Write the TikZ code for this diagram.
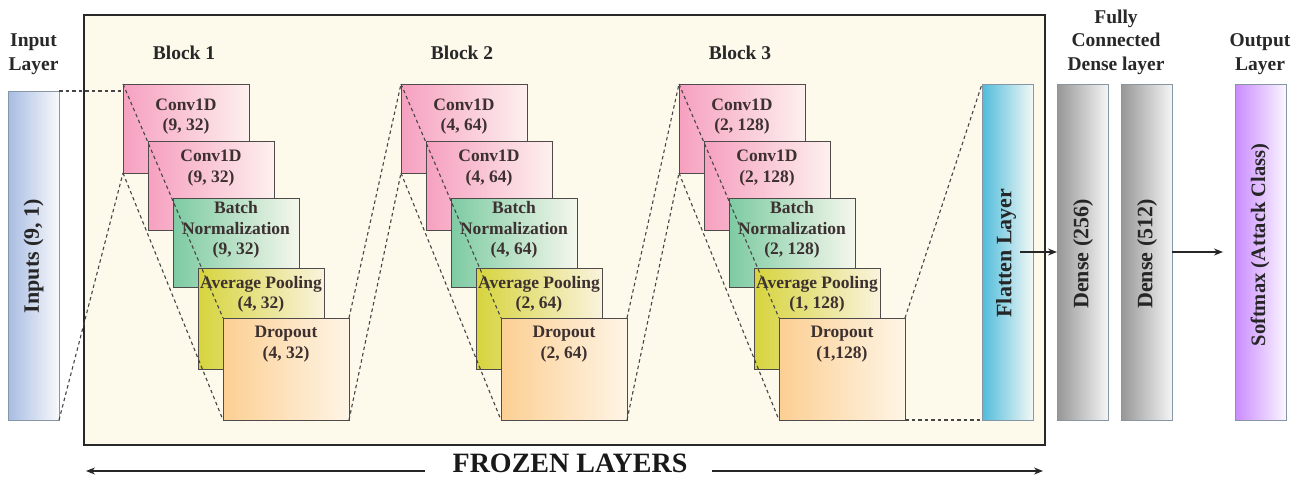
\documentclass[tikz,border=0pt]{standalone}
\usepackage{fontspec}
\setmainfont{Liberation Serif}
\usetikzlibrary{arrows.meta,calc}
\definecolor{frzfill}{RGB}{253,249,235}
\definecolor{frzline}{RGB}{40,40,40}
\definecolor{boxline}{RGB}{80,75,75}
\definecolor{barline}{RGB}{135,150,165}
\definecolor{dashcol}{RGB}{70,70,70}
\definecolor{lbltext}{RGB}{60,48,48}
\definecolor{hdrtext}{RGB}{40,40,40}
\definecolor{convL}{RGB}{246,160,192}
\definecolor{convR}{RGB}{253,240,238}
\definecolor{bnL}{RGB}{125,203,162}
\definecolor{bnR}{RGB}{245,247,236}
\definecolor{apL}{RGB}{214,212,60}
\definecolor{apR}{RGB}{250,243,222}
\definecolor{doL}{RGB}{252,207,147}
\definecolor{doR}{RGB}{254,245,230}
\definecolor{inL}{RGB}{168,188,226}
\definecolor{inR}{RGB}{248,249,252}
\definecolor{flL}{RGB}{80,188,219}
\definecolor{flR}{RGB}{243,248,246}
\definecolor{dnL}{RGB}{150,150,150}
\definecolor{dnR}{RGB}{245,245,245}
\definecolor{smL}{RGB}{201,139,255}
\definecolor{smR}{RGB}{251,246,255}
\begin{document}
\begin{tikzpicture}[x=1pt,y=-1pt,
  lyr/.style={draw=boxline, line width=0.8pt, inner sep=0pt, outer sep=0pt, anchor=north west, minimum width=126pt},
  conv/.style={lyr, left color=convL, right color=convR, minimum height=89pt},
  bnorm/.style={lyr, left color=bnL, right color=bnR, minimum height=89pt},
  apool/.style={lyr, left color=apL, right color=apR, minimum height=101pt},
  drop/.style={lyr, left color=doL, right color=doR, minimum height=102pt},
  bar/.style={draw=barline, line width=0.8pt, inner sep=0pt, outer sep=0pt, anchor=north west, minimum width=51pt, minimum height=336pt},
  lbl/.style={font=\bfseries\fontsize{17.5}{20.5}\selectfont, text=lbltext, align=center, inner sep=0pt},
  vtxt/.style={rotate=90, font=\bfseries\fontsize{22}{24}\selectfont, text=black!85, inner sep=0pt},
  hdr/.style={font=\bfseries\fontsize{19.5}{24}\selectfont, text=hdrtext, align=center, inner sep=0pt},
  dline/.style={draw=dashcol, line width=1.1pt, dash pattern=on 3.5pt off 3pt},
  arr/.style={-{Stealth[length=9pt,width=7pt]}, line width=1.2pt, draw=black!85}
]
\useasboundingbox (0,0) rectangle (1306,482);
\fill[white] (0,0) rectangle (1306,482);

% frozen area
\node[draw=frzline, line width=1.1pt, fill=frzfill, anchor=north west, inner sep=0pt, outer sep=0pt,
      minimum width=961pt, minimum height=430pt] (frz) at (84,15) {};

% input
\node[bar, left color=inL, right color=inR, minimum height=329pt] (inp) at (8,91) {};
\node[vtxt] (inpt) at (33.5,256) {Inputs (9, 1)};

% headers
\node[hdr] (hin) at (33.5,54) {Input\\Layer};
\node[hdr] (hb1) at (184,53) {Block 1};
\node[hdr] (hb2) at (462,53) {Block 2};
\node[hdr] (hb3) at (740,53) {Block 3};
\node[hdr, font=\bfseries\fontsize{19.5}{23.5}\selectfont] (hfc) at (1116,42) {Fully\\Connected\\Dense layer};
\node[hdr] (hout) at (1260,54) {Output\\Layer};

% block 1
\node[conv]  (b1c1) at (123,84) {};
\node[lbl]   (b1c1t) at ([yshift=-32.5pt]b1c1.north) {Conv1D\\(9, 32)};
\node[conv]  (b1c2) at (148,141) {};
\node[lbl]   (b1c2t) at ([yshift=-27pt]b1c2.north) {Conv1D\\(9, 32)};
\node[bnorm] (b1bn) at (173,198) {};
\node[lbl]   (b1bnt) at ([yshift=-32pt]b1bn.north) {Batch\\Normalization\\(9, 32)};
\node[apool] (b1ap) at (198,268) {};
\node[lbl]   (b1apt) at ([yshift=-26.5pt]b1ap.north) {Average Pooling\\(4, 32)};
\node[drop]  (b1do) at (223,318) {};
\node[lbl]   (b1dot) at ([yshift=-26pt]b1do.north) {Dropout\\(4, 32)};

% block 2
\node[conv]  (b2c1) at (401,84) {};
\node[lbl]   (b2c1t) at ([yshift=-32.5pt]b2c1.north) {Conv1D\\(4, 64)};
\node[conv]  (b2c2) at (426,141) {};
\node[lbl]   (b2c2t) at ([yshift=-27pt]b2c2.north) {Conv1D\\(4, 64)};
\node[bnorm] (b2bn) at (451,198) {};
\node[lbl]   (b2bnt) at ([yshift=-32pt]b2bn.north) {Batch\\Normalization\\(4, 64)};
\node[apool] (b2ap) at (476,268) {};
\node[lbl]   (b2apt) at ([yshift=-26.5pt]b2ap.north) {Average Pooling\\(2, 64)};
\node[drop]  (b2do) at (501,318) {};
\node[lbl]   (b2dot) at ([yshift=-26pt]b2do.north) {Dropout\\(2, 64)};

% block 3
\node[conv]  (b3c1) at (679,84) {};
\node[lbl]   (b3c1t) at ([yshift=-32.5pt]b3c1.north) {Conv1D\\(2, 128)};
\node[conv]  (b3c2) at (704,141) {};
\node[lbl]   (b3c2t) at ([yshift=-27pt]b3c2.north) {Conv1D\\(2, 128)};
\node[bnorm] (b3bn) at (729,198) {};
\node[lbl]   (b3bnt) at ([yshift=-32pt]b3bn.north) {Batch\\Normalization\\(2, 128)};
\node[apool] (b3ap) at (754,268) {};
\node[lbl]   (b3apt) at ([yshift=-26.5pt]b3ap.north) {Average Pooling\\(1, 128)};
\node[drop]  (b3do) at (779,318) {};
\node[lbl]   (b3dot) at ([yshift=-26pt]b3do.north) {Dropout\\(1,128)};

% flatten, dense, softmax
\node[bar, left color=flL, right color=flR] (flat) at (982,84) {};
\node[vtxt] (flatt) at (1006,253) {Flatten Layer};
\node[bar, left color=dnL, right color=dnR] (d1) at (1057,84) {};
\node[vtxt] (d1t) at (1083,254) {Dense (256)};
\node[bar, left color=dnL, right color=dnR] (d2) at (1121,84) {};
\node[vtxt] (d2t) at (1147,254) {Dense (512)};
\node[bar, left color=smL, right color=smR] (sm) at (1235,84) {};
\node[vtxt, font=\bfseries\fontsize{20.5}{24}\selectfont] (smt) at (1260,245) {Softmax (Attack Class)};

% dashed connectors
\draw[dline] (inp.north east) -- (inp.north east -| b1c1.west);
\draw[dline] (inp.south east) -- (b1c1.south west);
\draw[dline] (b1c1.north west) -- (b1do.north west);
\draw[dline] (b1c1.south west) -- (b1do.south west);
\draw[dline] (b1do.north east) -- (b2c1.north west);
\draw[dline] (b1do.south east) -- (b2c1.south west);
\draw[dline] (b2c1.north west) -- (b2do.north west);
\draw[dline] (b2c1.south west) -- (b2do.south west);
\draw[dline] (b2do.north east) -- (b3c1.north west);
\draw[dline] (b2do.south east) -- (b3c1.south west);
\draw[dline] (b3c1.north west) -- (b3do.north west);
\draw[dline] (b3c1.south west) -- (b3do.south west);
\draw[dline] (b3do.north east) -- (flat.north west);
\draw[dline] (b3do.south east) -- (flat.south west);

% arrows
\draw[arr] ([xshift=-13pt]flat.east) -- (d1.west);
\draw[arr, shorten >=12pt] (d2.east) -- (sm.west);

% frozen layers
\node[font=\bfseries\fontsize{28}{30}\selectfont, text=black!90, inner sep=0pt] (ftxt) at (570,463.5) {FROZEN LAYERS};
\coordinate (fl1) at (425,471);
\coordinate (fl2) at (86,471);
\coordinate (fr1) at (712,471);
\coordinate (fr2) at (1043,471);
\draw[arr] (fl1) -- (fl2);
\draw[arr] (fr1) -- (fr2);
\end{tikzpicture}
\end{document}
